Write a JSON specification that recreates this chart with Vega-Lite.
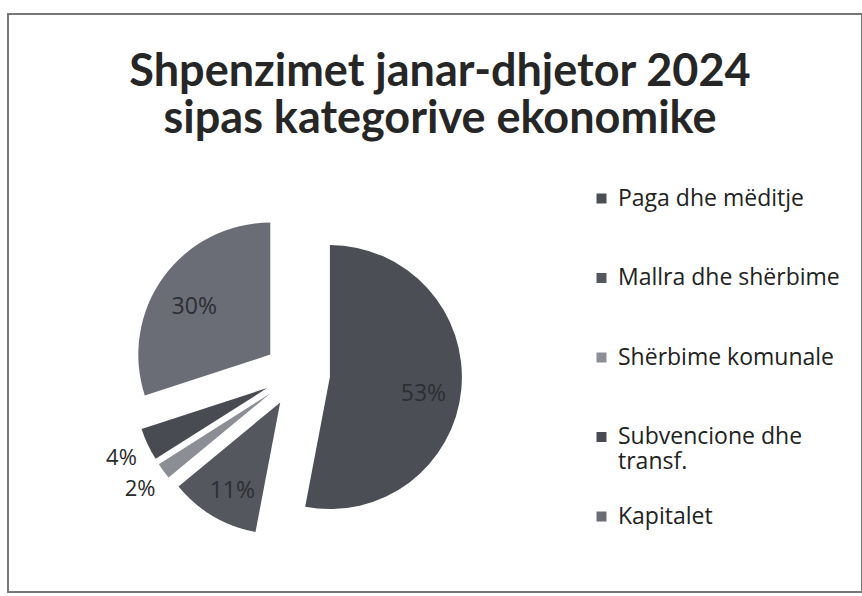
{
  "$schema": "https://vega.github.io/schema/vega-lite/v6.json",
  "width": 854,
  "height": 578,
  "autosize": "none",
  "padding": {"left": 8, "top": 14, "right": 0, "bottom": 4},
  "background": "#ffffff",
  "view": {"stroke": "#777777", "strokeWidth": 2},
  "config": {
    "view": {"stroke": "#777777", "strokeWidth": 2},
    "legend": {
      "symbolType": "square",
      "symbolSize": 100,
      "symbolStrokeWidth": 0,
      "labelFont": "Open Sans",
      "labelFontSize": 23,
      "labelColor": "#222222",
      "labelLimit": 400,
      "labelLineHeight": 26,
      "labelOffset": 5,
      "gridAlign": "all",
      "rowPadding": 30.5,
      "padding": 0
    }
  },
  "title": {
    "text": ["Shpenzimet janar-dhjetor 2024", "sipas kategorive ekonomike"],
    "font": "Lato",
    "fontSize": 45,
    "fontWeight": "bold",
    "color": "#262626",
    "lineHeight": 47,
    "baseline": "alphabetic",
    "anchor": "middle",
    "offset": -164,
    "dx": 5
  },
  "data": {
    "values": [
      {"cat": "Paga dhe mëditje", "value": 0.53, "ord": 1},
      {"cat": "Mallra dhe shërbime", "value": 0.11, "ord": 2},
      {"cat": "Shërbime komunale", "value": 0.02, "ord": 3},
      {"cat": "Subvencione dhe transf.", "value": 0.04, "ord": 4},
      {"cat": "Kapitalet", "value": 0.30, "ord": 5}
    ]
  },
  "transform": [
    {"stack": "value", "groupby": [], "sort": [{"field": "ord", "order": "ascending"}], "as": ["v0", "v1"]}
  ],
  "encoding": {
    "theta": {"field": "v0", "type": "quantitative", "scale": {"domain": [0, 1]}},
    "theta2": {"field": "v1"},
    "color": {
      "field": "cat",
      "type": "nominal",
      "scale": {
        "domain": ["Paga dhe mëditje", "Mallra dhe shërbime", "Shërbime komunale", "Subvencione dhe transf.", "Kapitalet"],
        "range": ["#4b4e55", "#54575e", "#8b8e94", "#484b52", "#6a6d75"]
      },
      "legend": {
        "title": null,
        "orient": "none",
        "legendX": 582,
        "legendY": 173,
        "labelExpr": "datum.label == 'Subvencione dhe transf.' ? ['Subvencione dhe', 'transf.'] : datum.label"
      }
    }
  },
  "layer": [
    {
      "transform": [{"filter": "datum.ord == 1"}],
      "mark": {"type": "arc", "outerRadius": 132, "x": 289, "y": 360, "xOffset": 32.9, "yOffset": 3.1}
    },
    {
      "transform": [{"filter": "datum.ord == 2"}],
      "mark": {"type": "arc", "outerRadius": 132, "x": 289, "y": 360, "xOffset": -16.8, "yOffset": 28.4}
    },
    {
      "transform": [{"filter": "datum.ord == 3"}],
      "mark": {"type": "arc", "outerRadius": 132, "x": 289, "y": 360, "xOffset": -26.7, "yOffset": 19.4}
    },
    {
      "transform": [{"filter": "datum.ord == 4"}],
      "mark": {"type": "arc", "outerRadius": 132, "x": 289, "y": 360, "xOffset": -29.9, "yOffset": 14.1}
    },
    {
      "transform": [{"filter": "datum.ord == 5"}],
      "mark": {"type": "arc", "outerRadius": 132, "x": 289, "y": 360, "xOffset": -26.7, "yOffset": -19.4}
    },
    {
      "mark": {"type": "text", "radius": 127, "x": 289, "y": 360, "dy": 8, "font": "Open Sans", "fontSize": 23, "color": "#2c2e33"},
      "encoding": {
        "theta": {"field": "value", "type": "quantitative", "stack": true, "scale": {"domain": [0, 1]}},
        "theta2": null,
        "order": {"field": "ord", "type": "quantitative"},
        "color": null,
        "text": {"field": "value", "type": "quantitative", "format": ".0%", "condition": {"test": "datum.value < 0.05", "value": ""}}
      }
    },
    {
      "mark": {"type": "text", "radius": 194, "x": 289, "y": 360, "dy": 1, "font": "Open Sans", "fontSize": 22, "color": "#2a2a2a"},
      "encoding": {
        "theta": {"field": "value", "type": "quantitative", "stack": true, "scale": {"domain": [0, 1]}},
        "theta2": null,
        "order": {"field": "ord", "type": "quantitative"},
        "color": null,
        "text": {"field": "value", "type": "quantitative", "format": ".0%", "condition": {"test": "datum.value >= 0.05", "value": ""}}
      }
    }
  ]
}
